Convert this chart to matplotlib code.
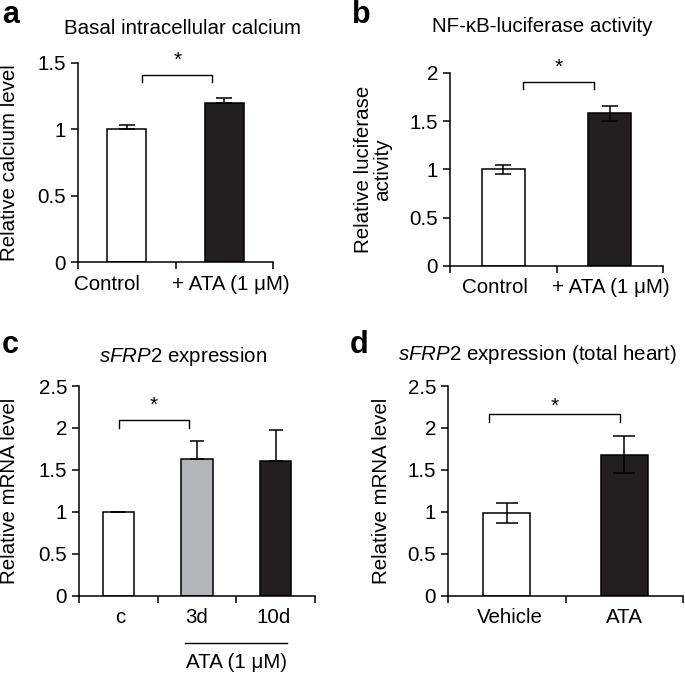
import matplotlib
matplotlib.use("Agg")
import matplotlib.pyplot as plt

plt.rcParams["font.family"] = ["Liberation Sans", "DejaVu Sans"]
plt.rcParams["mathtext.fontset"] = "custom"
plt.rcParams["mathtext.it"] = "Liberation Sans:italic"
plt.rcParams["mathtext.rm"] = "Liberation Sans"

# panel a: basal intracellular calcium
a_labels = ["Control", "+ ATA (1 \u03bcM)"]
a_values = [1.0, 1.2]
a_err_up = [0.03, 0.035]
a_err_lo = [0.0, 0.0]

# panel b: NF-kB luciferase activity
b_labels = ["Control", "+ ATA (1 \u03bcM)"]
b_values = [1.0, 1.58]
b_err_up = [0.05, 0.08]
b_err_lo = [0.05, 0.08]

# panel c: sFRP2 expression
c_labels = ["c", "3d", "10d"]
c_values = [1.0, 1.63, 1.60]
c_err_up = [0.0, 0.22, 0.37]
c_err_lo = [0.0, 0.0, 0.0]

# panel d: sFRP2 expression (total heart)
d_labels = ["Vehicle", "ATA"]
d_values = [0.99, 1.68]
d_err_up = [0.12, 0.22]
d_err_lo = [0.12, 0.22]

WHITE = "white"
BLACK = "#231f20"
GRAY = "#b4b6b9"
FS = 14.8

W, H = 685, 677
fig = plt.figure(figsize=(W / 100, H / 100), dpi=100)


def add_ax(x0, x1, ytop, ybot):
    return fig.add_axes([x0 / W, 1 - ybot / H, (x1 - x0) / W, (ybot - ytop) / H])


def panel(ax, labels, values, err_lo, err_up, colors, ymax, step, label_x,
          bracket, star, capsize, ylabel, ylabel_x):
    n = len(values)
    xs = list(range(n))
    ax.bar(xs, values, width=0.4, color=colors, edgecolor="black",
           linewidth=1.1, zorder=1)
    ax.errorbar(xs, values, yerr=[err_lo, err_up], fmt="none",
                ecolor="black", elinewidth=1.1, capsize=capsize,
                capthick=1.1, zorder=2)
    ax.set_xlim(-0.5, n - 0.5)
    ax.set_ylim(0, ymax)
    ax.spines[["top", "right"]].set_visible(False)
    for s in ("left", "bottom"):
        ax.spines[s].set_linewidth(1.1)
    yt = [i * step for i in range(int(round(ymax / step)) + 1)]
    ax.set_yticks(yt)
    ax.set_yticklabels(["%g" % v for v in yt])
    ax.set_xticks([i - 0.5 for i in range(n + 1)])
    ax.set_xticklabels([])
    ax.set_xticks(label_x, minor=True)
    ax.set_xticklabels(labels, minor=True)
    ax.tick_params(axis="x", which="minor", length=0, pad=9, labelsize=FS)
    ax.tick_params(axis="both", which="major", direction="out", length=5,
                   width=1.1, labelsize=FS)
    ax.set_ylabel(ylabel, fontsize=FS, linespacing=1.0)
    ax.yaxis.set_label_coords(ylabel_x, 0.5)

    x0, x1, ylo, yhi = bracket
    ax.plot([x0, x0, x1, x1], [ylo, yhi, yhi, ylo], color="black", lw=1.0,
            clip_on=False)
    ax.text(star[0], star[1], "*", ha="center", va="center", fontsize=15,
            clip_on=False)


ax_a = add_ax(78, 273, 63, 262)
panel(ax_a, a_labels, a_values, a_err_lo, a_err_up, [WHITE, BLACK], 1.5, 0.5,
      [-0.2, 1.07], (0.16, 0.87, 1.36, 1.41), (0.52, 1.52), 5.5,
      "Relative calcium level", -0.30)

ax_b = add_ax(450, 663, 72.7, 266)
panel(ax_b, b_labels, b_values, b_err_lo, b_err_up, [WHITE, BLACK], 2, 0.5,
      [-0.08, 1.01], (0.185, 0.85, 1.83, 1.905), (0.52, 2.06), 6,
      "Relative luciferase\nactivity", -0.27)

ax_c = add_ax(79, 315, 386, 595.7)
panel(ax_c, c_labels, c_values, c_err_lo, c_err_up, [WHITE, GRAY, BLACK], 2.5, 0.5,
      [0.02, 1.0, 1.98], (0.01, 0.9, 2.0, 2.09), (0.45, 2.27), 5,
      "Relative mRNA level", -0.254)
ax_c.plot([0.85, 2.14], [-0.226, -0.226], color="black", lw=1.0,
          transform=ax_c.get_xaxis_transform(), clip_on=False)
ax_c.text(1.5, -0.32, "ATA (1 \u03bcM)", ha="center", va="center", fontsize=FS,
          transform=ax_c.get_xaxis_transform())

ax_d = add_ax(448, 683, 386, 595.7)
panel(ax_d, d_labels, d_values, d_err_lo, d_err_up, [WHITE, BLACK], 2.5, 0.5,
      [0.03, 1.0], (-0.15, 0.965, 2.07, 2.165), (0.41, 2.26), 8,
      "Relative mRNA level", -0.243)

# titles and panel letters
fig.text(183 / W, 1 - 28 / H, "Basal intracellular calcium", ha="center",
         va="center", fontsize=FS)
fig.text(542 / W, 1 - 27 / H, "NF-\u03baB-luciferase activity", ha="center",
         va="center", fontsize=FS)
fig.text(183 / W, 1 - 357 / H, r"$\mathit{sFRP2}$ expression", ha="center",
         va="center", fontsize=FS)
fig.text(537 / W, 1 - 355 / H, r"$\mathit{sFRP2}$ expression (total heart)",
         ha="center", va="center", fontsize=FS)

for letter, x, y in [("a", 2, 0), ("b", 352, 0), ("c", 2, 330), ("d", 350, 330)]:
    fig.text(x / W, 1 - y / H, letter, ha="left", va="top", fontsize=22,
             fontweight="bold")

fig.savefig("out.png", dpi=100)
